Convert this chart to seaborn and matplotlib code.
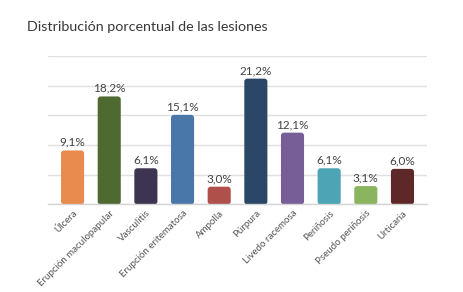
import matplotlib
matplotlib.use("Agg")
import matplotlib.pyplot as plt
import seaborn as sns
import pandas as pd
from matplotlib.patches import FancyBboxPatch

categories = ["Úlcera", "Erupción maculopapular", "Vasculitis", "Erupción eritematosa",
              "Ampolla", "Púrpura", "Livedo racemosa", "Periñosis", "Pseudo periñosis", "Urticaria"]
values = [9.1, 18.2, 6.1, 15.1, 3.0, 21.2, 12.1, 6.1, 3.1, 6.0]
labels = ["9,1%", "18,2%", "6,1%", "15,1%", "3,0%", "21,2%", "12,1%", "6,1%", "3,1%", "6,0%"]
colors = ["#E98B4E", "#4F6A31", "#3D3452", "#4A77A9", "#B0504B",
          "#2A4767", "#775E97", "#4CA4B4", "#8AB45E", "#5E2829"]

sns.set_style("white")
plt.rcParams['font.family'] = ['Lato', 'DejaVu Sans']

df = pd.DataFrame({"cat": categories, "val": values})

fig = plt.figure(figsize=(4.63, 2.92), dpi=100)
ax = fig.add_axes([0.1037, 0.2997, 0.8186, 0.5083])
sns.barplot(data=df, x="cat", y="val", hue="cat", palette=colors, legend=False,
            width=0.63, ax=ax, saturation=1)

ax.set_ylim(0, 25)
ax.set_xlim(-0.67, 9.67)
ax.set_yticks([0, 5, 10, 15, 20, 25])
ax.set_yticklabels([])
ax.tick_params(axis="y", length=0)
ax.grid(axis="y", color="#e0e0e0", linewidth=1)
ax.set_axisbelow(True)
for s in ["left", "right", "top"]:
    ax.spines[s].set_visible(False)
ax.spines["bottom"].set_color("#d4d4d4")
ax.spines["bottom"].set_linewidth(1)
ax.set_xlabel("")
ax.set_ylabel("")

# rounded bars
px_x = 0.8186 * 463 / 10.34
px_y = 0.5083 * 292 / 25
aspect = (1 / px_y) / (1 / px_x)
r = 3.0 / px_x
for p in list(ax.patches):
    x, y, w, h = p.get_x(), p.get_y(), p.get_width(), p.get_height()
    fc = p.get_facecolor()
    p.remove()
    fb = FancyBboxPatch((x, y), w, h, boxstyle=f"round,pad=0,rounding_size={r}",
                        mutation_aspect=aspect, facecolor=fc, edgecolor="none", zorder=2)
    ax.add_patch(fb)

for i, (v, lab) in enumerate(zip(values, labels)):
    ax.text(i, v + 0.45, lab, ha="center", va="bottom", fontsize=8.5, color="#444444")

ax.set_xticks(range(len(categories)))
ax.set_xticklabels(categories, rotation=45, ha="right", rotation_mode="anchor",
                   fontsize=7, color="#555555")
ax.tick_params(axis="x", length=0, pad=3)

fig.text(27 / 463, 1 - 27 / 292, "Distribución porcentual de las lesiones",
         fontsize=10.3, color="#383838", ha="left", va="center")

fig.savefig("out.png", dpi=100, facecolor="white")
